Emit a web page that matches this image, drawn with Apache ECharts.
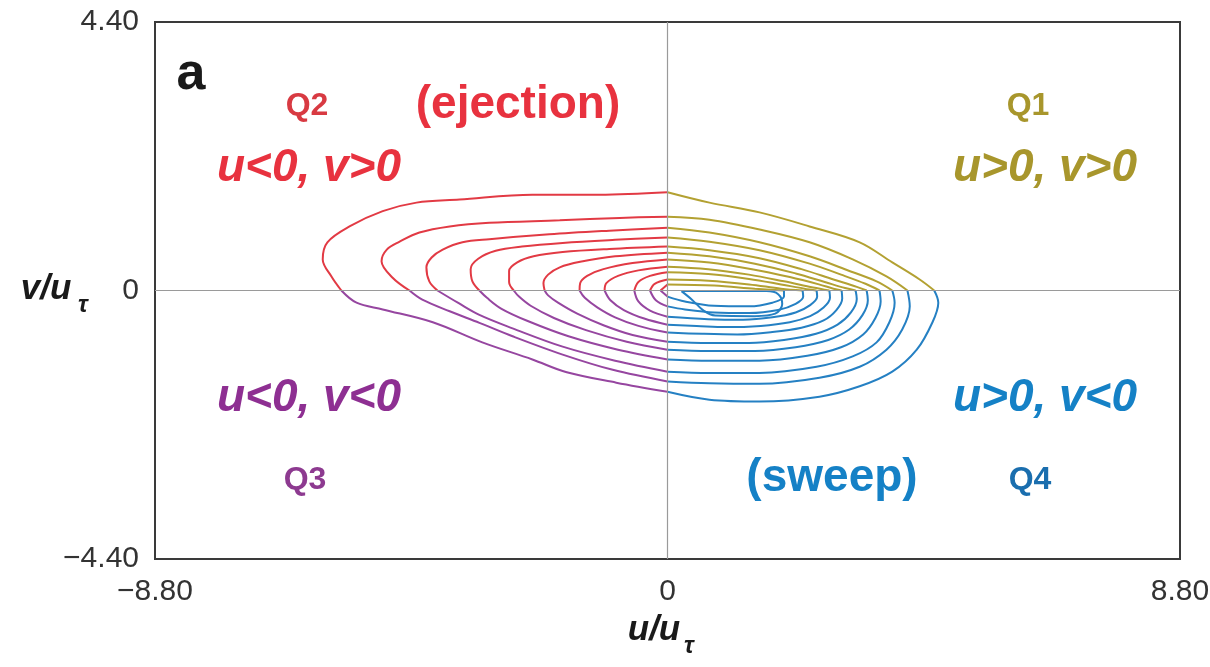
<!DOCTYPE html>
<html><head><meta charset="utf-8">
<script src="https://cdn.jsdelivr.net/npm/echarts@6/dist/echarts.min.js"></script>
<style>html,body{margin:0;padding:0;background:#fff}#c{width:1210px;height:667px}</style>
</head><body><div id="c"></div><script>
// axis ranges / ticks
const xRange = [-8.8, 8.8];
const yRange = [-4.4, 4.4];
const tickStepX = 8.8;
const tickStepY = 4.4;

// contour lines, [u, v] points, going clockwise from top u=0 crossing
const c1 = [[0,1.61],[0.72,1.44],[1.58,1.28],[2.44,1.05],[3.30,0.79],[3.86,0.46],[4.33,0.18],[4.58,0],
  [4.65,-0.20],[4.55,-0.52],[4.28,-0.97],[3.86,-1.33],[3.30,-1.57],[2.61,-1.74],[1.58,-1.82],[0.72,-1.79],[0,-1.66],
  [-0.88,-1.51],[-1.73,-1.34],[-2.32,-1.13],[-3.18,-0.85],[-4.03,-0.52],[-4.89,-0.31],[-5.34,-0.20],[-5.60,0],
  [-5.77,0.23],[-5.92,0.51],[-5.84,0.79],[-5.46,1.05],[-4.89,1.30],[-4.31,1.44],[-3.57,1.49],[-2.32,1.57],[-1.17,1.57],[0,1.61]];
const c2 = [[0,1.21],[0.72,1.16],[1.58,1.0],[2.44,0.79],[3.18,0.51],[3.76,0.23],[4.12,0],
  [4.16,-0.26],[4.03,-0.64],[3.76,-0.97],[3.30,-1.25],[2.61,-1.43],[1.58,-1.53],[0.72,-1.52],[0,-1.49],
  [-0.94,-1.30],[-1.80,-1.05],[-2.66,-0.75],[-3.23,-0.53],[-3.74,-0.34],[-4.21,-0.15],[-4.43,0],
  [-4.72,0.21],[-4.91,0.48],[-4.82,0.67],[-4.60,0.80],[-4.26,0.95],[-3.74,1.05],[-3.06,1.11],[-1.85,1.15],[-0.82,1.19],[0,1.21]];
const c3 = [[0,1.03],[0.72,0.95],[1.58,0.79],[2.44,0.56],[3.07,0.34],[3.59,0.15],[3.86,0],
  [3.90,-0.20],[3.81,-0.52],[3.59,-0.85],[3.18,-1.08],[2.56,-1.25],[1.58,-1.35],[0.72,-1.35],[0,-1.33],
  [-0.9,-1.15],[-1.8,-0.92],[-2.66,-0.62],[-3.23,-0.40],[-3.6,-0.20],[-3.95,0],
  [-4.09,0.15],[-4.14,0.38],[-4.05,0.54],[-3.86,0.67],[-3.52,0.79],[-3.06,0.84],[-2.03,0.92],[-1.0,0.98],[0,1.03]];
const c4 = [[0,0.87],[0.72,0.80],[1.58,0.66],[2.44,0.44],[2.98,0.26],[3.40,0.11],[3.64,0],
  [3.66,-0.18],[3.57,-0.45],[3.36,-0.72],[2.98,-0.93],[2.40,-1.07],[1.58,-1.15],[0.72,-1.15],[0,-1.13],
  [-0.85,-0.97],[-1.7,-0.75],[-2.4,-0.50],[-2.85,-0.30],[-3.1,-0.12],[-3.23,0],
  [-3.35,0.15],[-3.38,0.35],[-3.25,0.52],[-2.95,0.65],[-2.5,0.72],[-1.8,0.78],[-0.9,0.83],[0,0.87]];
const c5 = [[0,0.72],[0.72,0.66],[1.58,0.53],[2.3,0.35],[2.85,0.18],[3.25,0.06],[3.42,0],
  [3.44,-0.16],[3.35,-0.40],[3.12,-0.64],[2.76,-0.81],[2.2,-0.93],[1.5,-0.99],[0.72,-0.99],[0,-0.97],
  [-0.7,-0.84],[-1.4,-0.65],[-1.95,-0.45],[-2.35,-0.25],[-2.55,-0.10],[-2.64,0],
  [-2.72,0.14],[-2.72,0.32],[-2.58,0.46],[-2.3,0.56],[-1.8,0.63],[-1.0,0.68],[0,0.72]];
const c6 = [[0,0.62],[0.72,0.56],[1.5,0.44],[2.2,0.28],[2.7,0.14],[3.05,0.04],[3.23,0],
  [3.25,-0.14],[3.15,-0.36],[2.92,-0.56],[2.55,-0.71],[2.0,-0.81],[1.4,-0.86],[0.72,-0.86],[0,-0.84],
  [-0.6,-0.73],[-1.1,-0.57],[-1.55,-0.38],[-1.88,-0.20],[-2.05,-0.08],[-2.11,0],
  [-2.13,0.12],[-2.05,0.26],[-1.85,0.38],[-1.5,0.47],[-0.9,0.56],[0,0.62]];
const c7 = [[0,0.51],[0.72,0.46],[1.45,0.35],[2.1,0.22],[2.6,0.10],[2.85,0.03],[2.99,0],
  [3.0,-0.13],[2.9,-0.32],[2.68,-0.49],[2.3,-0.61],[1.8,-0.68],[1.2,-0.72],[0.6,-0.71],[0,-0.69],
  [-0.5,-0.58],[-0.9,-0.44],[-1.2,-0.28],[-1.42,-0.12],[-1.51,0],
  [-1.50,0.12],[-1.38,0.24],[-1.1,0.35],[-0.6,0.45],[0,0.51]];
const c8 = [[0,0.39],[0.7,0.35],[1.4,0.26],[2.0,0.15],[2.5,0.05],[2.78,0],
  [2.79,-0.12],[2.68,-0.28],[2.45,-0.42],[2.1,-0.52],[1.6,-0.58],[1.0,-0.60],[0.5,-0.58],[0,-0.56],
  [-0.4,-0.46],[-0.75,-0.32],[-0.98,-0.16],[-1.08,0],
  [-1.05,0.12],[-0.85,0.24],[-0.5,0.33],[0,0.39]];
const c9 = [[0,0.30],[0.7,0.27],[1.4,0.19],[1.95,0.10],[2.35,0.03],[2.56,0],
  [2.57,-0.10],[2.45,-0.24],[2.2,-0.36],[1.8,-0.44],[1.3,-0.48],[0.7,-0.47],[0,-0.43],
  [-0.3,-0.33],[-0.5,-0.18],[-0.57,0],
  [-0.5,0.14],[-0.3,0.24],[0,0.30]];
const c10 = [[0,0.18],[0.7,0.16],[1.4,0.10],[1.95,0.03],[2.32,0],
  [2.33,-0.10],[2.2,-0.22],[1.9,-0.32],[1.4,-0.37],[0.8,-0.36],[0.3,-0.31],[0,-0.26],
  [-0.2,-0.16],[-0.3,0],[-0.22,0.11],[0,0.18]];
const c11 = [[0,0.10],[0.8,0.08],[1.5,0.03],[2.0,0],[2.0,-0.1],[1.8,-0.2],[1.4,-0.26],[0.8,-0.25],[0.3,-0.18],[0,-0.10],
  [-0.12,0],[0,0.10]];
const c12 = [[0.24,-0.01],[0.42,-0.15],[0.62,-0.33],[0.82,-0.41],[1.5,-0.42],[1.85,-0.38],[1.97,-0.22],[1.9,-0.06],[1.7,-0.01],[0.24,-0.01]];
const contours = [c1,c2,c3,c4,c5,c6,c7,c8,c9,c10,c11,c12];

const lineColors = {Q1:'#b3a132', Q2:'#e23a44', Q3:'#9646a0', Q4:'#2580c3'};

function quadrant(a,b){
  const mu=(a[0]+b[0])/2, mv=(a[1]+b[1])/2;
  if (mu>=0) return mv>=0?'Q1':'Q4';
  return mv>=0?'Q2':'Q3';
}
const series = [];
contours.forEach(function(c){
  let run=[c[0]], q=quadrant(c[0],c[1]);
  for (let i=1;i<c.length;i++){
    const nq = i<c.length-1 ? quadrant(c[i],c[i+1]) : null;
    run.push(c[i]);
    if (nq!==q){
      series.push({type:'line', data:run, showSymbol:false, smooth:0.35, silent:true, z:3,
        lineStyle:{color:lineColors[q], width:2}});
      run=[c[i]]; q=nq;
    }
  }
});
series.push({type:'line', data:[], silent:true, z:2,
  markLine:{silent:true, symbol:'none', label:{show:false},
    lineStyle:{color:'#9a9a9a', width:1.2, type:'solid'},
    data:[{xAxis:0},{yAxis:0}]}});

function fmt(v){ if (Math.abs(v)<1e-9) return '0'; return (v<0?'\u2212':'')+Math.abs(v).toFixed(2); }

const T = (text,x,y,font,fill) => ({type:'text', x:x, y:y, z:10, style:{text:text, font:font, fill:fill,
  align:'center', verticalAlign:'middle', textAlign:'center', textVerticalAlign:'middle'}});
const bi = 'italic bold 46px "Liberation Sans", Arial, sans-serif';
const bq = 'bold 32px "Liberation Sans Narrow", "Liberation Sans", sans-serif';
const bp = 'bold 46px "Liberation Sans", Arial, sans-serif';
const an = 'italic bold 35px "Liberation Sans", Arial, sans-serif';
const sub = 'italic bold 24px "Liberation Sans", Arial, sans-serif';

const chart = echarts.init(document.getElementById('c'), null, {renderer:'canvas'});
chart.setOption({
  animation:false,
  backgroundColor:'#fff',
  grid:{left:155, right:30, top:22, bottom:108, containLabel:false, outerBoundsMode:'none',
    show:true, borderColor:'#3a3a3a', borderWidth:2, backgroundColor:'transparent'},
  xAxis:{type:'value', min:xRange[0], max:xRange[1], interval:tickStepX,
    axisLine:{show:false}, axisTick:{show:false}, splitLine:{show:false},
    axisLabel:{formatter:fmt, color:'#333', fontSize:30, fontFamily:'"Liberation Sans", Arial, sans-serif', margin:18}},
  yAxis:{type:'value', min:yRange[0], max:yRange[1], interval:tickStepY,
    axisLine:{show:false}, axisTick:{show:false}, splitLine:{show:false},
    axisLabel:{formatter:fmt, color:'#333', fontSize:30, fontFamily:'"Liberation Sans", Arial, sans-serif', margin:16}},
  series:series,
  graphic:[
    T('a',191,75,'bold 52px "Liberation Sans", Arial, sans-serif','#1a1a1a'),
    T('Q2',307,106,bq,'#d83a42'),
    T('(ejection)',518,105,bp,'#e8323f'),
    T('u<0, v>0',309,168,bi,'#e8323f'),
    T('Q1',1028,106,bq,'#a8962c'),
    T('u>0, v>0',1045,168,bi,'#a8962c'),
    T('u<0, v<0',309,398,bi,'#8e2f92'),
    T('u>0, v<0',1045,398,bi,'#1581c6'),
    T('Q3',305,480,bq,'#8d3a90'),
    T('(sweep)',832,478,bp,'#1581c6'),
    T('Q4',1030,480,bq,'#1a6eae'),
    T('u/u',654,630,an,'#1a1a1a'),
    T('\u03c4',689,646,sub,'#1a1a1a'),
    T('v/u',46,289,an,'#1a1a1a'),
    T('\u03c4',83,305,sub,'#1a1a1a')
  ]
});
</script></body></html>
